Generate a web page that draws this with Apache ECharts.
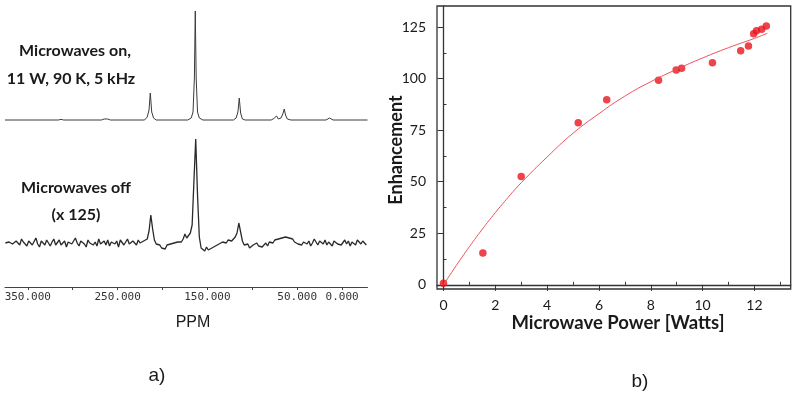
<!DOCTYPE html>
<html>
<head>
<meta charset="utf-8">
<script src="https://cdn.jsdelivr.net/npm/echarts@6/dist/echarts.min.js"></script>
<style>
  html, body { margin: 0; padding: 0; background: #fff; }
  #chart { width: 800px; height: 399px; }
</style>
</head>
<body>
<div id="chart"></div>
<script>
// ---- panel a) NMR spectra, ppm vs intensity (a.u.) ----
// microwaves on: [ppm, intensity]
const onTrace = [
  [375.4, 0], [316, 0], [313, 0.6], [310, 0], [268, 0], [265, 1], [263, 3], [261, 1], [258, 0],
  [220, 0], [217, 3], [215, 10], [213.6, 27], [212, 8], [210, 2], [207, 0],
  [172, 0], [168, 2], [166, 8], [164.5, 42], [163.5, 109], [162.5, 42], [161, 8], [159, 2], [155, 0],
  [121, 0], [118, 2], [116, 8], [114.5, 22], [113, 7], [111, 1], [108, 0],
  [79, 0], [76, 1.5], [73, 4], [71, 1], [68, 2], [66, 6], [64.4, 11], [63, 5], [61, 1], [57, 0],
  [18, 0], [16, 1], [14, 2], [12, 1], [10, 0], [-28.3, 0]
]
// microwaves off (x 125): sampled every 2 ppm starting at 375 ppm
const offStart = 375
const offStep = -2
const offValues = [
  0, -2, 1, 3, -1, -3, 2, 0, -2, 4,
  1, -1, -3, 2, 3, -2, 0, 5, -1, -4,
  2, 1, -2, 3, 0, -3, 1, 4, -2, -1,
  3, -2, 0, 2, -4, 1, 3, -1, -2, 5,
  0, -3, 2, 1, -1, -4, 3, 0, 2, -2,
  1, -3, 4, -1, 0, 2, -2, 3, -3, 1,
  0, -1, 2, -4, 3, 1, -2, 0, 4, -1,
  -3, 2, 1, -2, 3, 0, -1, 2,
  1, 4, 12, 28, 14, 3, -1,
  -3, -2, -5, -3, -6, -2, -4, -1, -3, 0, -2, 1, 3, 1, 4, 9, 5, 7,
  10, 18, 62, 104, 48, 6, -5,
  -6, -8, -4, -7, -9, -5, -6, -3,
  -4, -1, -3, 1, 2, 0, 3, 5, 2,
  4, 6, 10, 20, 11, 2,
  -2, -4, -1, -5, -3, -2, -4, 0, -3, -1, -4, -2, 0, -3, 1,
  2, 0, 3, 1, 4, 2, 5, 3, 6, 7, 5, 3, 4, 1, 2, -1,
  0, -2, 1, 3, -1, 2, -3, 0, 4, 1,
  -2, 2, 0, -1, 3, -2, 1, 0, -3, 2,
  4, -1, 1, -2, 0, 3, -1, 2, -3, 1,
  0, -2, 3, 1, -1, 2, 0, -2
]
const ppmLabels = [350, 250, 150, 50, 0]
const ppmTicks = [350, 300, 250, 200, 150, 100, 50, 0]

// ---- panel b) enhancement vs microwave power ----
const power = [0, 1.52, 3.0, 5.2, 6.3, 8.3, 8.98, 9.19, 10.38, 11.47, 11.77, 11.97, 12.08, 12.28, 12.46]
const enhancement = [0.8, 15.4, 52.5, 78.6, 89.8, 99.2, 104.2, 105, 107.7, 113.5, 115.8, 121.8, 123.2, 123.9, 125.5]
const fitPower = [0, 0.5, 1, 1.5, 2, 2.5, 3, 4, 5, 6, 7, 8, 9, 10, 11, 12, 12.5]
const fitEnh = [0, 9.5, 18.5, 27, 35, 42.5, 49.5, 62, 73.5, 83, 91.5, 98.5, 104.5, 110, 115, 119.5, 122]
const powerTicks = [0, 2, 4, 6, 8, 10, 12]
const powerMinor = [1, 3, 5, 7, 9, 11, 13]
const enhTicks = [0, 25, 50, 75, 100, 125]
const enhMinor = [12.5, 37.5, 62.5, 87.5, 112.5]

const chart = echarts.init(document.getElementById('chart'), null, { renderer: 'canvas' })

const onOffset = 167
const offOffset = 44
const onData = onTrace.map(p => [p[0], p[1] + onOffset])
const offData = offValues.map((v, i) => [offStart + offStep * i, v + offOffset])

const axisColor = '#333'
const txt = '#1a1a1a'

chart.setOption({
  animation: false,
  grid: [
    { left: 5, right: 432.5, top: 0, bottom: 112 },
    { left: 437, right: 9.3, top: 6, bottom: 110, show: true, borderColor: axisColor, borderWidth: 1.3 }
  ],
  xAxis: [
    {
      gridIndex: 0, type: 'value', inverse: true, min: -28.3, max: 375.4,
      splitLine: { show: false },
      axisLine: { lineStyle: { color: '#444', width: 1 } },
      axisTick: { customValues: ppmTicks, length: 3, lineStyle: { color: '#444' } },
      axisLabel: {
        customValues: ppmLabels, margin: 5, color: '#333',
        fontFamily: 'DejaVu Sans Mono', fontSize: 11,
        formatter: v => Number(v).toFixed(3)
      }
    },
    {
      gridIndex: 1, type: 'value', min: -0.25, max: 13.4,
      splitLine: { show: false },
      axisLine: { lineStyle: { color: axisColor, width: 1.3 } },
      axisTick: { customValues: powerTicks, length: 6, lineStyle: { color: axisColor } },
      axisLabel: { customValues: powerTicks, margin: 9, color: txt, fontFamily: 'Lato', fontSize: 14 }
    },
    {
      gridIndex: 1, type: 'value', min: -0.25, max: 13.4,
      splitLine: { show: false },
      axisLine: { show: false },
      axisTick: { customValues: powerMinor, length: 3, lineStyle: { color: axisColor } },
      axisLabel: { show: false }
    }
  ],
  yAxis: [
    { gridIndex: 0, type: 'value', min: 0, max: 287, show: false },
    {
      gridIndex: 1, type: 'value', min: -2, max: 135.2,
      splitLine: { show: false },
      axisLine: { show: true, lineStyle: { color: axisColor, width: 1.3 } },
      axisTick: { show: true, customValues: enhTicks, length: 6, lineStyle: { color: axisColor } },
      axisLabel: { customValues: enhTicks, margin: 11, color: txt, fontFamily: 'Lato', fontSize: 14 }
    },
    {
      gridIndex: 1, type: 'value', min: -2, max: 135.2,
      splitLine: { show: false },
      axisLine: { show: false },
      axisTick: { show: true, customValues: enhMinor, length: 3, lineStyle: { color: axisColor } },
      axisLabel: { show: false }
    }
  ],
  series: [
    {
      type: 'line', xAxisIndex: 0, yAxisIndex: 0, data: onData,
      showSymbol: false, lineStyle: { color: '#3a3a3a', width: 1 }
    },
    {
      type: 'line', xAxisIndex: 0, yAxisIndex: 0, data: offData,
      showSymbol: false, lineStyle: { color: '#2a2a2a', width: 1.3 }
    },
    {
      type: 'line', xAxisIndex: 1, yAxisIndex: 1,
      data: fitPower.map((x, i) => [x, fitEnh[i]]),
      smooth: true, showSymbol: false, lineStyle: { color: '#f0505a', width: 1 }
    },
    {
      type: 'scatter', xAxisIndex: 1, yAxisIndex: 1,
      data: power.map((x, i) => [x, enhancement[i]]),
      symbolSize: 7.5, itemStyle: { color: '#e8141e' }
    }
  ],
  graphic: [
    { type: 'text', x: 75, y: 51, style: { text: 'Microwaves on,', font: 'bold 16px Lato', fill: txt, align: 'center', verticalAlign: 'middle' } },
    { type: 'text', x: 71, y: 79, style: { text: '11 W, 90 K, 5 kHz', font: 'bold 16px Lato', fill: txt, align: 'center', verticalAlign: 'middle' } },
    { type: 'text', x: 76, y: 188, style: { text: 'Microwaves off', font: 'bold 16px Lato', fill: txt, align: 'center', verticalAlign: 'middle' } },
    { type: 'text', x: 76, y: 215, style: { text: '(x 125)', font: 'bold 16px Lato', fill: txt, align: 'center', verticalAlign: 'middle' } },
    { type: 'text', x: 193, y: 323, style: { text: 'PPM', font: '16px "Liberation Sans"', fill: txt, align: 'center', verticalAlign: 'middle' } },
    { type: 'text', x: 157, y: 376, style: { text: 'a)', font: '19px "Liberation Sans"', fill: txt, align: 'center', verticalAlign: 'middle' } },
    { type: 'text', x: 640, y: 382, style: { text: 'b)', font: '19px "Liberation Sans"', fill: txt, align: 'center', verticalAlign: 'middle' } },
    { type: 'text', x: 618, y: 323, style: { text: 'Microwave Power [Watts]', font: 'bold 18.5px Lato', fill: txt, align: 'center', verticalAlign: 'middle' } },
    { type: 'text', x: 396, y: 150, rotation: Math.PI / 2, style: { text: 'Enhancement', font: 'bold 18px Lato', fill: txt, align: 'center', verticalAlign: 'middle' } }
  ]
})
</script>
</body>
</html>
